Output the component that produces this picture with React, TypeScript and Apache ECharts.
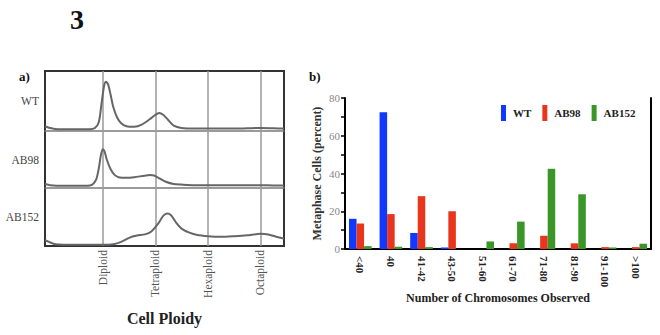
import React, { useEffect, useRef } from "react";
import * as echarts from "echarts";

// Panel a: DNA-content traces, [relative DNA content, relative cell count]
const wtTrace: [number, number][] = [
  [-0.2, 8], [0, 5], [0.3, 3], [1.0, 3], [1.5, 3], [1.7, 5], [1.85, 15], [1.95, 45],
  [2.05, 75], [2.12, 82], [2.2, 78], [2.3, 60], [2.4, 40], [2.55, 22], [2.7, 13],
  [2.9, 8], [3.2, 7], [3.5, 11], [3.8, 20], [4.0, 27], [4.15, 30], [4.3, 27],
  [4.5, 18], [4.7, 9], [5.0, 5], [5.5, 4], [6.0, 4], [6.5, 4], [7.0, 4], [7.5, 4.5],
  [8.0, 5], [8.5, 4.5], [8.9, 4],
];
const ab98Trace: [number, number][] = [
  [-0.2, 7], [0, 5], [0.5, 4], [1.0, 4], [1.4, 4], [1.6, 6], [1.75, 15], [1.85, 35],
  [1.93, 58], [2.0, 68], [2.07, 64], [2.15, 50], [2.3, 33], [2.45, 23], [2.6, 19],
  [2.9, 18], [3.2, 19], [3.5, 21], [3.8, 23], [3.95, 22], [4.15, 17], [4.4, 11],
  [4.7, 7], [5.0, 6], [5.5, 5], [6.0, 5], [6.5, 5], [7.0, 5], [7.5, 5], [8.0, 5],
  [8.5, 4.5], [8.9, 4.5],
];
const ab152Trace: [number, number][] = [
  [-0.2, 10], [-0.05, 7], [0.2, 3], [1.0, 2], [2.0, 2], [2.4, 3], [2.7, 7], [3.0, 14],
  [3.3, 18], [3.6, 20], [3.85, 25], [4.1, 38], [4.3, 52], [4.45, 56], [4.6, 53],
  [4.8, 40], [5.0, 30], [5.3, 23], [5.6, 19], [6.0, 17], [6.5, 16], [7.0, 17],
  [7.5, 18.5], [8.0, 21], [8.3, 20], [8.6, 16], [8.9, 13],
];
const traceNames = ["WT", "AB98", "AB152"];
const ploidyTicks = [2, 4, 6, 8];
const ploidyNames: Record<number, string> = {
  2: "Diploid",
  4: "Tetraploid",
  6: "Hexaploid",
  8: "Octaploid",
};

// Panel b: karyotype distribution
const chromosomeBins = ["<40", "40", "41-42", "43-50", "51-60", "61-70", "71-80", "81-90", "91-100", ">100"];
const wtPercent = [16, 72.5, 8.5, 0.8, 0, 0, 0, 0, 0, 0];
const ab98Percent = [13.5, 18.5, 28, 20, 0, 3, 7, 3, 1, 1];
const ab152Percent = [1.5, 1.2, 1, 0, 4, 14.5, 42.5, 29, 0.8, 2.8];

const SERIF = "'Liberation Serif', 'Times New Roman', serif";

export default function App() {
  const ref = useRef<HTMLDivElement>(null);

  useEffect(() => {
    if (!ref.current) return;
    const chart = echarts.init(ref.current, null, { renderer: "svg" });

    const traces = [wtTrace, ab98Trace, ab152Trace];
    const traceGrids = [
      { left: 45, top: 71, width: 239, height: 60 },
      { left: 45, top: 131, width: 239, height: 57 },
      { left: 45, top: 188, width: 239, height: 58 },
    ];

    const xMin = -0.2;
    const xMax = 8.9;

    const xAxes: any[] = [];
    const yAxes: any[] = [];
    const series: any[] = [];

    traceGrids.forEach((_, i) => {
      xAxes.push({
        type: "value",
        gridIndex: i,
        min: xMin,
        max: xMax,
        axisLine: { show: i < 2, lineStyle: { color: "#7a7a7a", width: 1.5 } },
        axisTick: { show: false },
        axisLabel: { show: false },
        splitLine: { show: false },
      });
      yAxes.push({
        type: "value",
        gridIndex: i,
        min: 0,
        max: 100,
        name: traceNames[i],
        nameLocation: "middle",
        nameRotate: 0,
        nameGap: 6,
        nameTextStyle: { fontFamily: SERIF, fontSize: 11.5, color: "#444", align: "right" },
        axisLine: { show: false },
        axisTick: { show: false },
        axisLabel: { show: false },
        splitLine: { show: false },
      });
      series.push({
        type: "line",
        xAxisIndex: i,
        yAxisIndex: i,
        data: traces[i],
        smooth: 0.25,
        showSymbol: false,
        lineStyle: { color: "#666", width: 2 },
        z: 5,
      });
    });

    // Frame around panel a, with the ploidy gridlines and labels
    xAxes.push({
      type: "value",
      gridIndex: 3,
      min: xMin,
      max: xMax,
      name: "Cell Ploidy",
      nameLocation: "middle",
      nameGap: 64,
      nameTextStyle: { fontFamily: SERIF, fontSize: 16, fontWeight: "bold", color: "#222" },
      axisLine: { show: false },
      axisTick: { show: false },
      axisLabel: {
        customValues: ploidyTicks,
        rotate: 90,
        margin: 4,
        fontFamily: SERIF,
        fontSize: 11.5,
        color: "#555",
        formatter: (v: number) => ploidyNames[v] ?? "",
      },
      splitLine: { show: false },
    });
    yAxes.push({
      type: "value",
      gridIndex: 3,
      min: 0,
      max: 1,
      show: false,
    });
    series.push({
      type: "line",
      xAxisIndex: 3,
      yAxisIndex: 3,
      data: [],
      silent: true,
      markLine: {
        silent: true,
        symbol: "none",
        label: { show: false },
        lineStyle: { color: "#9a9a9a", width: 1.5, type: "solid" },
        data: ploidyTicks.map((v) => ({ xAxis: v })),
      },
    });

    // Panel b: bottom/left axes carry the scale, top/right axes close the frame
    xAxes.push({
      type: "category",
      gridIndex: 4,
      data: chromosomeBins,
      name: "Number of Chromosomes Observed",
      nameLocation: "middle",
      nameGap: 43,
      nameTextStyle: { fontFamily: SERIF, fontSize: 12, fontWeight: "bold", color: "#222" },
      axisLine: { show: true, lineStyle: { color: "#000", width: 2 } },
      axisTick: { show: false },
      axisLabel: {
        interval: 0,
        rotate: -90,
        margin: 7,
        fontFamily: SERIF,
        fontSize: 11,
        fontWeight: "bold",
        color: "#222",
      },
    });
    yAxes.push({
      type: "value",
      gridIndex: 4,
      min: 0,
      max: 80,
      interval: 20,
      name: "Metaphase Cells (percent)",
      nameLocation: "middle",
      nameGap: 22,
      nameTextStyle: { fontFamily: SERIF, fontSize: 12, fontWeight: "bold", color: "#333" },
      axisLine: { show: true, lineStyle: { color: "#000", width: 2 } },
      axisTick: { show: true, length: 4, lineStyle: { color: "#000", width: 1.5 } },
      minorTick: { show: true, splitNumber: 2, length: 4, lineStyle: { color: "#000", width: 1.5 } },
      axisLabel: { fontFamily: SERIF, fontSize: 11, color: "#888", margin: 5 },
      splitLine: { show: false },
    });
    xAxes.push({
      type: "category",
      gridIndex: 4,
      position: "top",
      data: chromosomeBins,
      axisLine: { show: true, lineStyle: { color: "#000", width: 2 } },
      axisTick: { show: false },
      axisLabel: { show: false },
      splitLine: { show: false },
    });
    yAxes.push({
      type: "value",
      gridIndex: 4,
      position: "right",
      min: 0,
      max: 80,
      interval: 20,
      axisLine: { show: true, lineStyle: { color: "#000", width: 2 } },
      axisTick: { show: false },
      axisLabel: { show: false },
      splitLine: { show: false },
    });

    const barColors = ["#1038ff", "#e8361d", "#3b962a"];
    [wtPercent, ab98Percent, ab152Percent].forEach((vals, k) => {
      series.push({
        type: "bar",
        name: traceNames[k],
        xAxisIndex: 4,
        yAxisIndex: 4,
        data: vals,
        barGap: "0%",
        barCategoryGap: "26%",
        itemStyle: { color: barColors[k] },
      });
    });

    chart.setOption({
      animation: false,
      backgroundColor: "#fff",
      textStyle: { fontFamily: SERIF },
      title: [
        { text: "3", left: 65, top: 0, textStyle: { fontFamily: SERIF, fontSize: 28, fontWeight: "bold", color: "#111" } },
        { text: "a)", left: 14, top: 65, textStyle: { fontFamily: SERIF, fontSize: 13, fontWeight: "bold", color: "#111" } },
        { text: "b)", left: 304, top: 65, textStyle: { fontFamily: SERIF, fontSize: 13, fontWeight: "bold", color: "#111" } },
      ],
      legend: {
        data: traceNames,
        left: 501,
        top: 105,
        padding: 0,
        itemWidth: 5,
        itemHeight: 16,
        itemGap: 11,
        icon: "rect",
        textStyle: { fontFamily: SERIF, fontSize: 11, fontWeight: "bold", color: "#222", padding: [0, 0, 0, 2] },
      },
      grid: [
        ...traceGrids.map((g) => ({ ...g, show: false })),
        { left: 45, top: 71, width: 239, height: 175, show: true, borderColor: "#333", borderWidth: 2, backgroundColor: "transparent" },
        { left: 345, top: 98, right: 9, bottom: 86, show: false },
      ],
      xAxis: xAxes,
      yAxis: yAxes,
      series,
    });

    return () => chart.dispose();
  }, []);

  return <div ref={ref} style={{ position: "absolute", left: 0, top: 0, width: 660, height: 335 }} />;
}
